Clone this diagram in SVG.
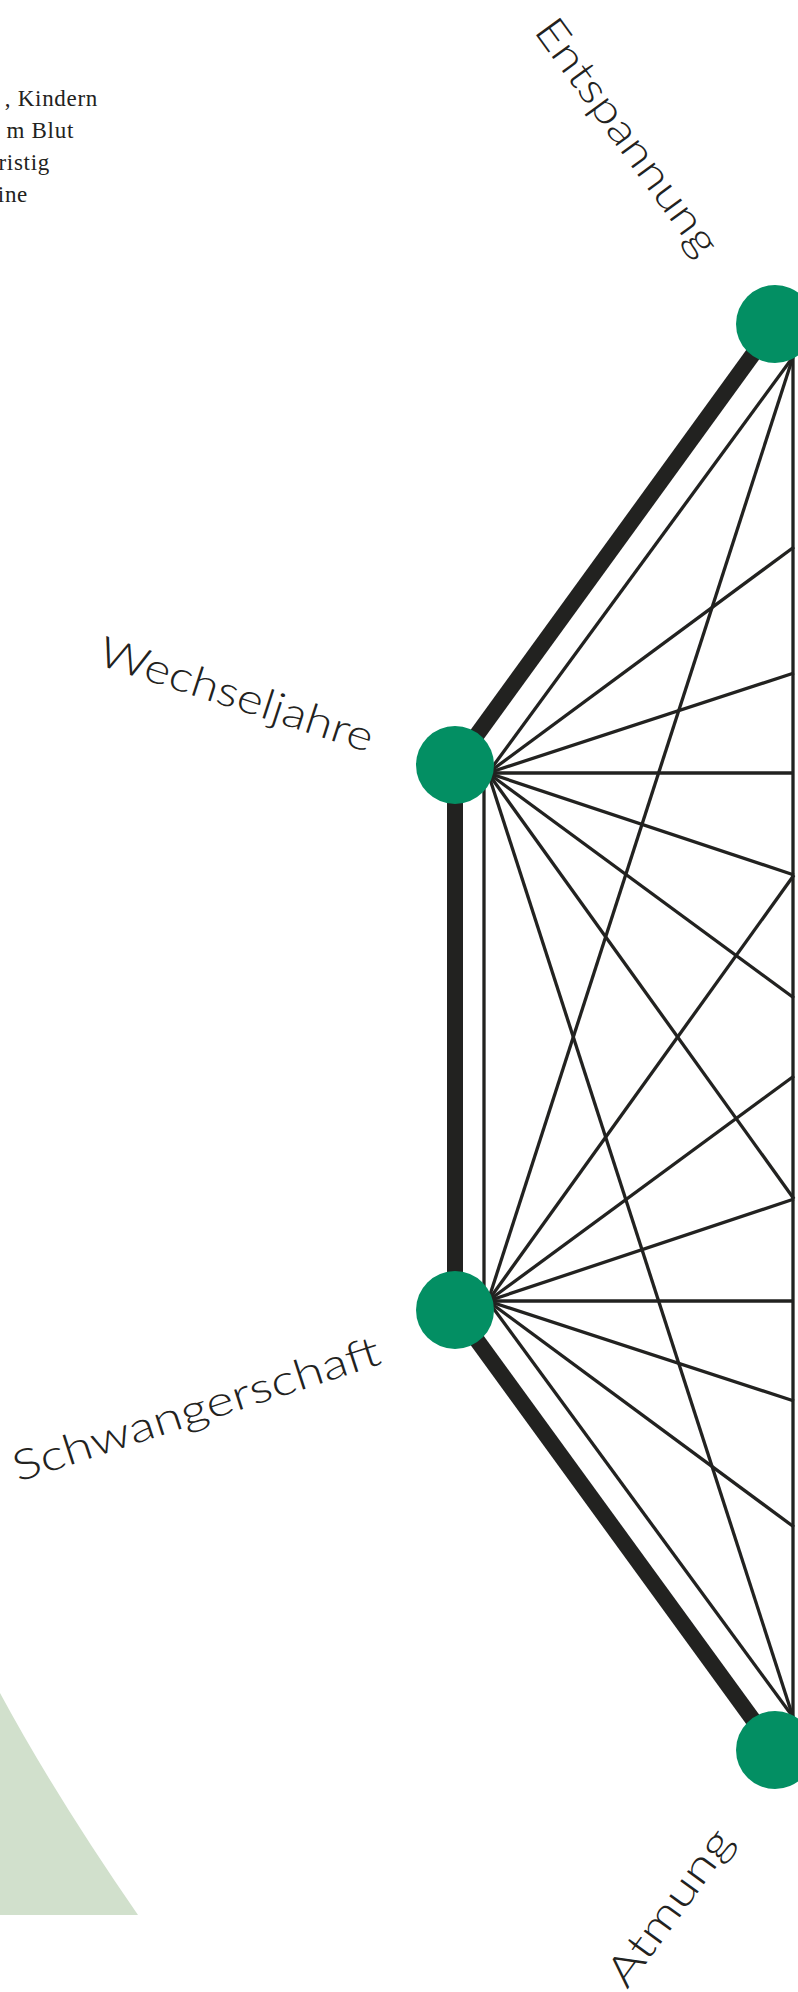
<svg xmlns="http://www.w3.org/2000/svg" width="798" height="1992" viewBox="0 0 798 1992">
<style>
.bg{fill:#ffffff}
.l{stroke:#222220;stroke-width:3.3;fill:none;stroke-linecap:butt}
.t{stroke:#222220;stroke-width:16;fill:none;stroke-linecap:butt}
.n{fill:#038f63}
.lab{font-family:Lato,"Open Sans","DejaVu Sans",sans-serif;font-weight:300;font-size:42px;fill:#222220}
.body{font-family:"Liberation Serif","DejaVu Serif",serif;font-size:23px;fill:#222220;letter-spacing:0.7px}
.deco{fill:#d1e0cc}
</style>
<rect class="bg" x="0" y="0" width="798" height="1992"/>
<path class="deco" d="M0,1693 Q55,1795 138,1915 L0,1915 Z"/>
<g id="body-text">
<text class="body" x="98" y="106" text-anchor="end">, Kindern</text>
<text class="body" x="74" y="138" text-anchor="end">m Blut</text>
<text class="body" x="50" y="170" text-anchor="end">ristig</text>
<text class="body" x="28" y="202" text-anchor="end">ine</text>
</g>
<g id="connectors">
<line class="t" x1="775" y1="324" x2="455" y2="765"/>
<line class="t" x1="455" y1="765" x2="455" y2="1310"/>
<line class="t" x1="455" y1="1310" x2="775" y2="1750"/>
<line class="l" x1="793" y1="357" x2="488" y2="773"/>
<line class="l" x1="793" y1="357" x2="488" y2="1301"/>
<line class="l" x1="793" y1="340" x2="793" y2="1734"/>
<line class="l" x1="488" y1="773" x2="793" y2="1717"/>
<line class="l" x1="488" y1="1301" x2="793" y2="1717"/>
<line class="l" x1="484" y1="773" x2="484" y2="1301"/>
<line class="l" x1="488" y1="773" x2="794" y2="547"/>
<line class="l" x1="488" y1="773" x2="794" y2="673"/>
<line class="l" x1="488" y1="773" x2="794" y2="773"/>
<line class="l" x1="488" y1="773" x2="794" y2="875"/>
<line class="l" x1="488" y1="773" x2="794" y2="998"/>
<line class="l" x1="488" y1="773" x2="794" y2="1199"/>
<line class="l" x1="488" y1="1301" x2="794" y2="875"/>
<line class="l" x1="488" y1="1301" x2="794" y2="1076"/>
<line class="l" x1="488" y1="1301" x2="794" y2="1199"/>
<line class="l" x1="488" y1="1301" x2="794" y2="1301"/>
<line class="l" x1="488" y1="1301" x2="794" y2="1401"/>
<line class="l" x1="488" y1="1301" x2="794" y2="1527"/>
</g>
<g id="node-entspannung">
<circle class="n" cx="775" cy="324" r="39"/>
<text class="lab" transform="translate(533,31) rotate(54)" textLength="282" lengthAdjust="spacingAndGlyphs">Entspannung</text>
</g>
<g id="node-wechseljahre">
<circle class="n" cx="455" cy="765" r="39"/>
<text class="lab" transform="translate(96,664) rotate(18)" textLength="286" lengthAdjust="spacingAndGlyphs">Wechseljahre</text>
</g>
<g id="node-schwangerschaft">
<circle class="n" cx="455" cy="1310" r="39"/>
<text class="lab" transform="translate(18,1482) rotate(-18)" textLength="384" lengthAdjust="spacingAndGlyphs">Schwangerschaft</text>
</g>
<g id="node-atmung">
<circle class="n" cx="775" cy="1750" r="39"/>
<text class="lab" transform="translate(627,1990) rotate(-54)" textLength="184" lengthAdjust="spacingAndGlyphs">Atmung</text>
</g>
</svg>
